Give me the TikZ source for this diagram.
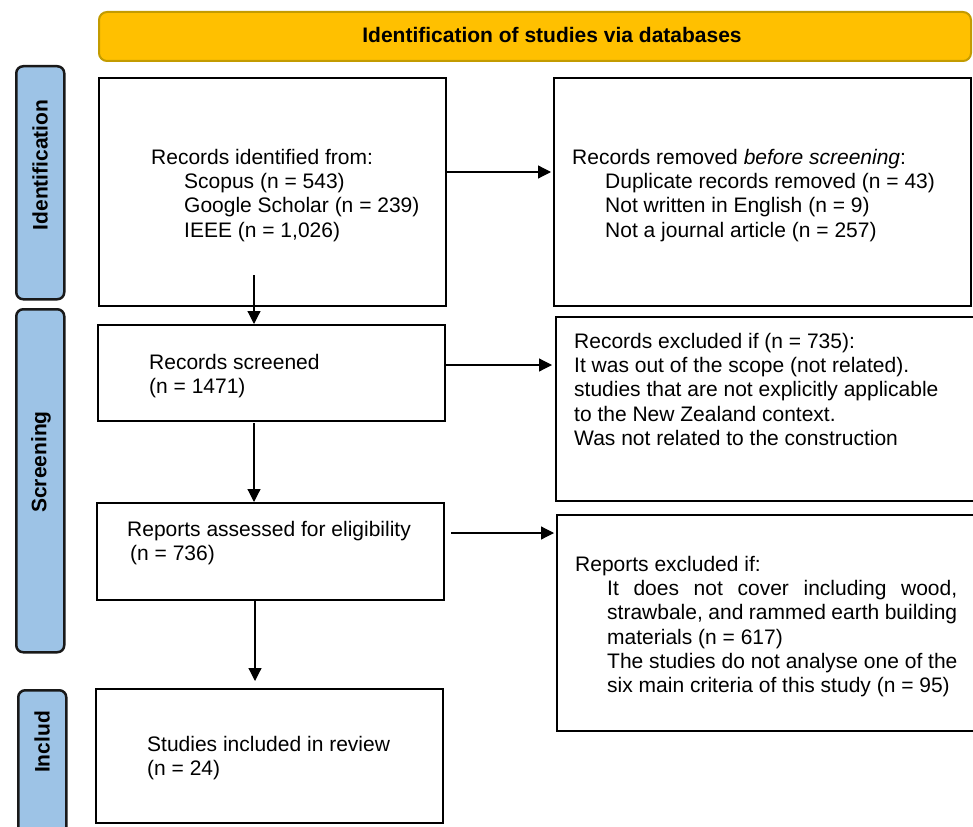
\documentclass[tikz,border=0pt]{standalone}
\usepackage{fontspec}
\setmainfont{Liberation Sans}
\usetikzlibrary{arrows.meta}
\definecolor{gold}{HTML}{FFC000}
\definecolor{goldline}{HTML}{C39B00}
\definecolor{sideblue}{HTML}{9DC3E6}
\begin{document}
\begin{tikzpicture}[x=1pt,y=-1pt,
  box/.style={draw=black, line width=2pt, fill=white, anchor=north west, inner sep=0},
  txt/.style={anchor=north west, inner sep=0, align=left, font=\fontsize{21}{24.3}\selectfont},
  side/.style={draw=black!90, line width=2.5pt, fill=sideblue, rounded corners=7pt, anchor=north west, inner sep=0},
  sidelbl/.style={rotate=90, font=\fontsize{21}{24}\selectfont\bfseries, inner sep=0},
  arr/.style={line width=1.2pt, -{Triangle[length=13pt,width=13pt]}}]
\useasboundingbox (0,0) rectangle (973,826);
\clip (0,0) rectangle (973,826);

% banner
\node[draw=goldline, line width=2pt, fill=gold, rounded corners=8pt, anchor=north west,
      minimum width=872, minimum height=49, inner sep=0] (banner) at (98,11) {};
\node[anchor=base, font=\fontsize{21}{24}\selectfont\bfseries, inner sep=0] (bannertxt) at (552,43)
  {Identification of studies via databases};

% side bars
\node[side, minimum width=48, minimum height=233] (sid) at (15,65) {};
\node[side, minimum width=48, minimum height=343] (ssc) at (15,308) {};
\node[side, minimum width=48, minimum height=170] (sin) at (17,689) {};
\node[sidelbl] (lid) at (40,165) {Identification};
\node[sidelbl] (lsc) at (41,462) {Screening};
\node[sidelbl] (lin) at (42,742) {Includ};

% main boxes
\node[box, minimum width=347, minimum height=228] (b1) at (98,77) {};
\node[box, minimum width=347, minimum height=96] (b2) at (97,324) {};
\node[box, minimum width=347, minimum height=97] (b3) at (96,502) {};
\node[box, minimum width=347, minimum height=134] (b4) at (95,688) {};
\node[box, minimum width=417, minimum height=228] (r1) at (553,77) {};
\node[box, minimum width=430, minimum height=184] (r2) at (555,316) {};
\node[box, minimum width=430, minimum height=216] (r3) at (556,514) {};

% texts
\node[txt] (t1) at (151,147) {\strut Records identified from:\\\hspace*{33pt}Scopus (n = 543)\\\hspace*{33pt}Google Scholar (n = 239)\\\hspace*{33pt}IEEE (n = 1,026)};
\node[txt] (tr1) at (572,147) {\strut Records removed \textit{before screening}:\\\hspace*{33pt}Duplicate records removed (n = 43)\\\hspace*{33pt}Not written in English (n = 9)\\\hspace*{33pt}Not a journal article (n = 257)};
\node[txt] (t2) at (149,352) {\strut Records screened\\(n = 1471)};
\node[txt] (t3) at (127,519) {\strut Reports assessed for eligibility\\\hspace*{3pt}(n = 736)};
\node[txt] (t4) at (147,734) {\strut Studies included in review\\(n = 24)};
\node[txt] (tr2) at (574,331) {\strut Records excluded if (n = 735):\\It was out of the scope (not related).\\studies that are not explicitly applicable\\to the New Zealand context.\\Was not related to the construction};
\node[txt] (tr3) at (575,554) {\strut Reports excluded if:\\\hspace*{32pt}\makebox[350pt][s]{It does not cover including wood,}\\\hspace*{32pt}\makebox[350pt][s]{strawbale, and rammed earth building}\\\hspace*{32pt}materials (n = 617)\\\hspace*{32pt}The studies do not analyse one of the\\\hspace*{32pt}six main criteria of this study (n = 95)};

% connectors
\coordinate (a1s) at (254,275);
\draw[arr] (a1s) -- (a1s |- b2.north);
\coordinate (h1) at (0,172);
\draw[arr, shorten >=2pt] (b1.east |- h1) -- (r1.west |- h1);
\coordinate (a2s) at (254,423);
\draw[arr] (a2s) -- (a2s |- b3.north);
\coordinate (h2) at (0,365);
\draw[arr, shorten >=3pt] (b2.east |- h2) -- (r2.west |- h2);
\coordinate (a3e) at (255,681);
\draw[arr] (b3.south -| a3e) -- (a3e);
\coordinate (h3s) at (451,533);
\draw[arr, shorten >=2pt] (h3s) -- (r3.west |- h3s);
\end{tikzpicture}
\end{document}
